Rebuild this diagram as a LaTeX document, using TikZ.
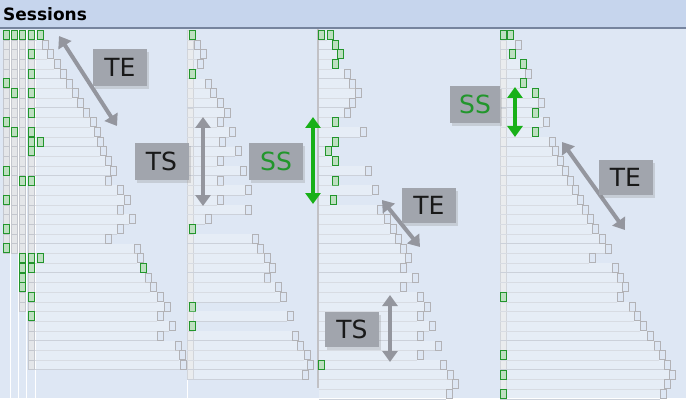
\documentclass[tikz,border=0pt]{standalone}
\usepackage{fontspec}
\setmainfont{DejaVu Sans}
\usetikzlibrary{arrows.meta,shadows}
\definecolor{panelblue}{RGB}{222,231,244}
\definecolor{headblue}{RGB}{198,213,237}
\definecolor{headline}{RGB}{118,132,158}
\definecolor{cellgray}{RGB}{178,178,182}
\definecolor{stackgray}{RGB}{196,199,206}
\definecolor{rowgray}{RGB}{204,209,218}
\definecolor{sessgreen}{RGB}{34,150,44}
\definecolor{boxgray}{RGB}{161,165,173}
\definecolor{measgray}{RGB}{148,150,158}
\definecolor{measgreen}{RGB}{24,176,24}

% one column of sessions: start x, list of end-square x / kind
\newcommand{\sessioncol}[2]{%
  \foreach \ex/\kind [count=\i from 0] in {#2} {
    \pgfmathsetmacro\ry{35+9.7*\i}
    \fill[white,opacity=0.25] (#1,\ry-4.85) rectangle (\ex-3,\ry+4.85);
    \draw[rowline] (#1,\ry+4.85) -- (\ex-3,\ry+4.85);
    \draw[cell\kind] (\ex-3,\ry-4.5) rectangle (\ex+3,\ry+4.5);
  }}
% stacked start markers: x, last row
\newcommand{\startstack}[2]{%
  \foreach \i in {0,...,#2} {
    \pgfmathsetmacro\ry{35+9.7*\i}
    \draw[stack] (#1-3,\ry-4.85) rectangle (#1+3,\ry+4.85);
  }}

\begin{document}
\begin{tikzpicture}[x=1pt,y=-1pt]
  \tikzstyle{celln}=[draw=cellgray,line width=0.8pt]
  \tikzstyle{cellg}=[draw=sessgreen,fill=sessgreen!30,line width=1pt]
  \tikzstyle{stack}=[draw=stackgray,fill=stackgray!45,line width=0.4pt]
  \tikzstyle{rowline}=[draw=rowgray,line width=0.5pt]
  \tikzstyle{lbl}=[fill=boxgray,inner sep=0pt,minimum width=54pt,minimum height=37pt,
    font=\fontsize{25}{25}\selectfont,text=black!90,
    drop shadow={shadow xshift=2pt,shadow yshift=-3pt,opacity=0.25}]
  \tikzstyle{meas}=[{Triangle[width=15pt,length=11pt]}-{Triangle[width=15pt,length=11pt]},
    line width=4pt,draw=measgray]
  \tikzstyle{measg}=[meas,draw=measgreen,line width=4.5pt]
  \useasboundingbox (0,0) rectangle (688,401);
  % panel and header bar
  \fill[white] (0,0) rectangle (688,401);
  \fill[panelblue] (0,0) rectangle (686,398);
  \fill[headblue] (0,0) rectangle (686,28);
  \draw[headline,line width=1.2pt] (0,28) -- (686,28);
  \node[anchor=base west,inner sep=0pt,font=\fontsize{17}{17}\selectfont\bfseries] (title) at (3,21) {Sessions};
  % column guides
  \foreach \gx in {10,18,26,35,187}
    \draw[white,line width=0.8pt] (\gx,30) -- (\gx,398);
  \draw[cellgray!80,line width=1.8pt] (318,29) -- (318,388);
  % start marker stacks
  \startstack{6}{22}
  \startstack{14}{22}
  \startstack{22}{28}
  \startstack{31}{34}
  \startstack{190}{35}
  \startstack{503}{37}
  % the four session columns
  \sessioncol{35}{40/g,45/n,50/n,57/n,63/n,69/n,75/n,80/n,86/n,93/n,97/n,100/n,103/n,108/n,113/n,108/n,120/n,127/n,120/n,132/n,120/n,108/n,137/n,140/n,143/g,148/n,153/n,160/n,167/n,160/n,172/n,160/n,178/n,182/n,183/n}
  \sessioncol{187}{192/g,197/n,203/n,200/n,192/g,208/n,213/n,220/n,227/n,220/n,232/n,222/n,238/n,220/n,243/n,220/n,248/n,220/n,248/n,208/n,192/g,255/n,260/n,267/n,272/n,267/n,278/n,283/n,192/g,290/n,192/g,295/n,300/n,307/n,310/n,305/n}
  \sessioncol{319}{330/g,335/g,340/g,335/g,347/n,352/n,358/n,352/n,347/n,335/g,363/n,335/g,328/g,335/g,368/n,335/g,375/n,333/g,380/n,387/n,393/n,398/n,403/n,408/n,403/n,415/n,403/n,420/n,427/n,420/n,432/n,420/n,438/n,420/n,443/n,450/n,455/n,449/n}
  \sessioncol{500}{510/g,518/n,512/g,523/g,528/n,523/g,535/g,541/n,535/g,546/n,535/g,552/n,555/n,560/n,565/n,570/n,575/n,580/n,585/n,590/n,595/n,602/n,608/n,592/n,615/n,620/n,625/n,620/n,632/n,637/n,643/n,650/n,657/n,662/n,667/n,672/n,667/n,663/n}
  % green markers on the starts
  \foreach \sx/\r in {6/0,6/5,6/9,6/14,6/17,6/20,6/22,14/0,14/6,14/10,22/0,22/15,22/23,22/24,22/25,22/26,
      31/0,31/2,31/4,31/6,31/8,31/10,31/11,31/12,31/15,31/23,31/24,31/27,31/29,40/11,40/23,
      321/0,321/34,503/0,503/27,503/33,503/35,503/37} {
    \pgfmathsetmacro\ry{35+9.7*\r}
    \draw[cellg] (\sx-3,\ry-4.5) rectangle (\sx+3,\ry+4.5);
  }
  % measuring arrows
  \coordinate (teAtop) at (59,36);   \coordinate (teAbot) at (117,126);
  \coordinate (tsAtop) at (203,117); \coordinate (tsAbot) at (203,206);
  \coordinate (ssAtop) at (313,117); \coordinate (ssAbot) at (313,204);
  \coordinate (teBtop) at (382,200); \coordinate (teBbot) at (420,247);
  \coordinate (tsBtop) at (390,295); \coordinate (tsBbot) at (390,362);
  \coordinate (ssBtop) at (515,87);  \coordinate (ssBbot) at (515,137);
  \coordinate (teCtop) at (562,142); \coordinate (teCbot) at (625,230);
  \draw[meas] (teAtop) -- (teAbot);
  \draw[meas] (tsAtop) -- (tsAbot);
  \draw[measg] (ssAtop) -- (ssAbot);
  \draw[meas] (teBtop) -- (teBbot);
  \draw[meas] (tsBtop) -- (tsBbot);
  \draw[measg] (ssBtop) -- (ssBbot);
  \draw[meas] (teCtop) -- (teCbot);
  % labels
  \node[lbl] (teA) at (120,67.5) {TE};
  \node[lbl] (tsA) at (161.5,161.5) {TS};
  \node[lbl,text=sessgreen] (ssA) at (276,161.5) {SS};
  \node[lbl,minimum height=35pt] (teB) at (429,205.5) {TE};
  \node[lbl,minimum height=35pt] (tsB) at (352,329.5) {TS};
  \node[lbl,minimum width=50pt,text=sessgreen] (ssB) at (475,104.5) {SS};
  \node[lbl,minimum height=35pt] (teC) at (625.5,177.5) {TE};
\end{tikzpicture}
\end{document}
